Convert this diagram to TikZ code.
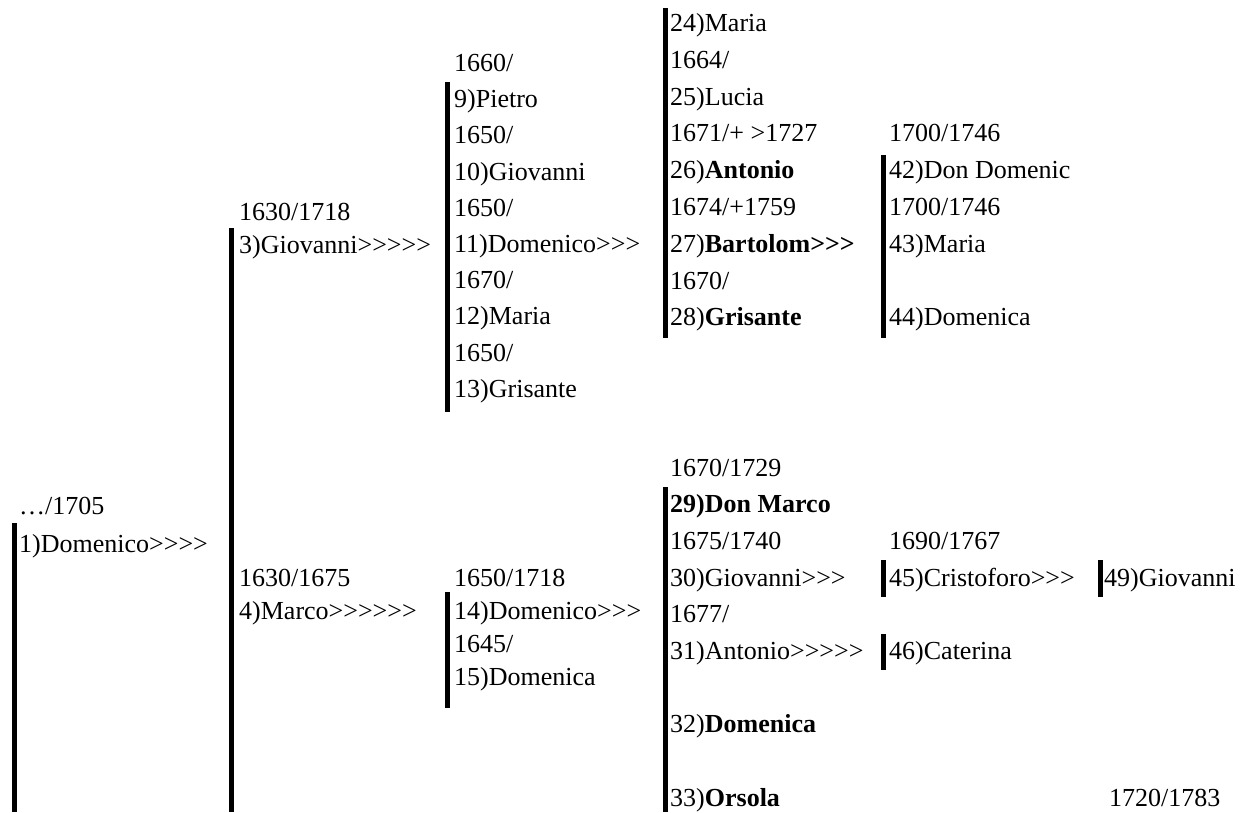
\documentclass[tikz,border=0pt]{standalone}
\usepackage{fontspec}
\setmainfont{Liberation Serif}[Ligatures=TeXOff]
\tikzset{
  lbl/.style={anchor=base west, inner sep=0pt, font=\fontsize{26}{31}\selectfont},
  bar/.style={line width=5pt, line cap=butt},
}
\begin{document}
\begin{tikzpicture}[x=1pt,y=-1pt]
\useasboundingbox (0,0) rectangle (1257,812);
% column 1
\node[lbl] (d1) at (19,514) {…/1705};
\node[lbl] (p1) at (19,552) {1)Domenico>>>>};
% column 2
\node[lbl] (d3) at (239,220) {1630/1718};
\node[lbl] (p3) at (239,253) {3)Giovanni>>>>>};
\node[lbl] (d4) at (239,586) {1630/1675};
\node[lbl] (p4) at (239,619) {4)Marco>>>>>>};
% column 3 top
\node[lbl] (d9) at (454,71) {1660/};
\node[lbl] (p9) at (454,107) {9)Pietro};
\node[lbl] (d10) at (454,143) {1650/};
\node[lbl] (p10) at (454,180) {10)Giovanni};
\node[lbl] (d11) at (454,216) {1650/};
\node[lbl] (p11) at (454,252) {11)Domenico>>>};
\node[lbl] (d12) at (454,288) {1670/};
\node[lbl] (p12) at (454,324) {12)Maria};
\node[lbl] (d13) at (454,361) {1650/};
\node[lbl] (p13) at (454,397) {13)Grisante};
% column 3 bottom
\node[lbl] (d14) at (454,586) {1650/1718};
\node[lbl] (p14) at (454,619) {14)Domenico>>>};
\node[lbl] (d15) at (454,652) {1645/};
\node[lbl] (p15) at (454,685) {15)Domenica};
% column 4 top
\node[lbl] (p24) at (670,31) {24)Maria};
\node[lbl] (d25) at (670,68) {1664/};
\node[lbl] (p25) at (670,105) {25)Lucia};
\node[lbl] (d26) at (670,141) {1671/+ >1727};
\node[lbl] (p26) at (670,178) {26)\textbf{Antonio}};
\node[lbl] (d27) at (670,215) {1674/+1759};
\node[lbl] (p27) at (670,252) {27)\textbf{Bartolom>>>}};
\node[lbl] (d28) at (670,289) {1670/};
\node[lbl] (p28) at (670,325) {28)\textbf{Grisante}};
% column 4 bottom
\node[lbl] (d29) at (670,476) {1670/1729};
\node[lbl] (p29) at (670,512) {\textbf{29)Don Marco}};
\node[lbl] (d30) at (670,549) {1675/1740};
\node[lbl] (p30) at (670,586) {30)Giovanni>>>};
\node[lbl] (d31) at (670,622) {1677/};
\node[lbl] (p31) at (670,659) {31)Antonio>>>>>};
\node[lbl] (p32) at (670,732) {32)\textbf{Domenica}};
\node[lbl] (p33) at (670,806) {33)\textbf{Orsola}};
% column 5 top
\node[lbl] (d42) at (889,141) {1700/1746};
\node[lbl] (p42) at (889,178) {42)Don Domenic};
\node[lbl] (d43) at (889,215) {1700/1746};
\node[lbl] (p43) at (889,252) {43)Maria};
\node[lbl] (p44) at (889,325) {44)Domenica};
% column 5 bottom
\node[lbl] (d45) at (889,549) {1690/1767};
\node[lbl] (p45) at (889,586) {45)Cristoforo>>>};
\node[lbl] (p46) at (889,659) {46)Caterina};
% column 6
\node[lbl] (p49) at (1104,586) {49)Giovanni};
\node[lbl] (d50) at (1109,806) {1720/1783};
% bars
\draw[bar] (14,523) -- (14,812);
\draw[bar] (231,228) -- (231,812);
\draw[bar] (447.5,82) -- (447.5,412);
\draw[bar] (447.5,592) -- (447.5,708);
\draw[bar] (665.5,8) -- (665.5,338);
\draw[bar] (665.5,487) -- (665.5,812);
\draw[bar] (883,155) -- (883,338);
\draw[bar] (883,560) -- (883,597);
\draw[bar] (883,634) -- (883,670);
\draw[bar] (1100.5,560) -- (1100.5,597);
\end{tikzpicture}
\end{document}
